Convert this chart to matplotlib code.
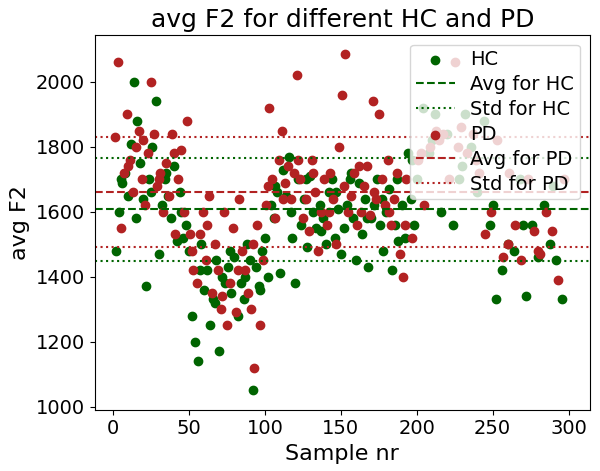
import matplotlib
matplotlib.use("Agg")
import matplotlib.pyplot as plt

hc_x = [2,4,6,8,10,12,14,16,18,20,22,24,26,28,30,32,34,36,38,40,42,44,46,48,50,
        52,54,56,58,60,62,64,66,68,70,72,74,76,78,80,82,84,86,88,90,92,94,96,98,
        100,102,104,106,108,110,112,114,116,118,120,122,124,126,128,130,132,134,136,138,140,
        142,144,146,148,150,152,154,156,158,160,162,164,166,168,170,172,174,176,178,180,
        182,184,186,188,190,192,194,196,198,200,204,208,212,216,220,224,228,232,236,240,
        244,248,252,256,260,264,268,272,276,280,284,288,292,296,
        5,15,25,35,45,57,67,77,87,97,107,117,127,137,147,157,167,177,187,197,210,230,250,270,290]
hc_y = [1480,1600,1690,1720,1650,1810,2000,1880,1750,1640,1370,1700,1800,1940,1470,1620,1700,1650,1580,1740,1510,1660,1520,1560,1480,
        1280,1200,1140,1500,1360,1420,1250,1330,1450,1170,1400,1380,1430,1350,1460,1280,1380,1330,1500,1450,1050,1430,1370,1480,
        1520,1400,1620,1580,1660,1410,1730,1650,1770,1520,1380,1700,1560,1640,1490,1710,1600,1550,1620,1580,1500,
        1660,1700,1520,1610,1470,1550,1620,1700,1580,1450,1690,1530,1640,1430,1580,1620,1700,1560,1480,1600,
        1670,1420,1560,1510,1620,1520,1780,1640,1560,1700,1920,1780,1900,1600,1840,1560,1700,1900,1800,1660,
        1880,1560,1330,1420,1500,1480,1700,1340,1560,1460,1620,1500,1450,1330,
        1700,1580,1660,1720,1600,1420,1320,1480,1400,1360,1680,1600,1700,1540,1660,1720,1580,1640,1700,1760,1820,1740,1620,1560,1680]
pd_x = [1,3,5,7,9,11,13,15,17,19,21,23,25,27,29,31,33,35,37,39,41,43,45,47,49,
        51,53,55,57,59,61,63,65,67,69,71,73,75,77,79,81,83,85,87,89,91,93,95,97,99,
        101,103,105,107,109,111,113,115,117,119,121,123,125,127,129,131,133,135,137,139,
        141,143,145,147,149,151,153,155,157,159,161,163,165,167,169,171,173,175,177,179,
        181,183,185,187,189,191,193,197,201,205,209,213,217,221,225,229,233,237,241,245,
        249,253,257,261,265,269,273,277,281,285,289,293,297,
        10,20,30,40,52,62,72,82,92,102,112,122,132,142,152,162,172,182,192,203,215,227,239,260,280]
pd_y = [1830,2060,1550,1720,1900,1760,1660,1800,1850,1700,1620,1780,2000,1840,1680,1720,1600,1750,1650,1840,1530,1700,1790,1600,1880,
        1530,1420,1380,1530,1600,1450,1650,1350,1500,1420,1300,1600,1250,1380,1550,1290,1640,1480,1420,1350,1300,1120,1560,1250,1450,
        1620,1920,1700,1580,1760,1850,1690,1740,1640,1720,2020,1700,1580,1640,1540,1760,1660,1480,1600,1700,
        1560,1720,1640,1500,1800,1960,2085,1600,1650,1720,1560,1600,1680,1740,1590,1940,1640,1900,1700,1620,
        1760,1560,1640,1720,1470,1400,1700,1520,1760,1620,1800,1850,1840,1700,2060,1860,1780,1840,1720,1530,
        1600,1820,1460,1720,1560,1450,1700,1540,1470,1600,1540,1390,1700,
        1740,1820,1700,1780,1480,1560,1340,1420,1500,1680,1640,1760,1720,1600,1680,1740,1660,1600,1560,1780,1820,1800,1760,1500,1480]

hc_mean, hc_std = 1607, 160
pd_mean, pd_std = 1660, 170

plt.rcParams['font.size'] = 14
fig, ax = plt.subplots(figsize=(6, 4.71), dpi=100)
ax.scatter(hc_x, hc_y, color='darkgreen', label='HC')
ax.axhline(hc_mean, color='darkgreen', ls='--', label='Avg for HC')
ax.axhline(hc_mean - hc_std, color='darkgreen', ls=':', label='Std for HC')
ax.axhline(hc_mean + hc_std, color='darkgreen', ls=':')
ax.scatter(pd_x, pd_y, color='firebrick', label='PD')
ax.axhline(pd_mean, color='firebrick', ls='--', label='Avg for PD')
ax.axhline(pd_mean - pd_std, color='firebrick', ls=':', label='Std for PD')
ax.axhline(pd_mean + pd_std, color='firebrick', ls=':')
ax.set_xlim(-12, 314)
ax.set_ylim(990, 2145)
ax.set_title('avg F2 for different HC and PD', fontsize=18)
ax.set_xlabel('Sample nr', fontsize=16)
ax.set_ylabel('avg F2', fontsize=16)
ax.legend(loc='upper right', borderpad=0.3, labelspacing=0.3)
fig.subplots_adjust(left=0.158, right=0.983, top=0.926, bottom=0.13)
fig.savefig('out.png')
